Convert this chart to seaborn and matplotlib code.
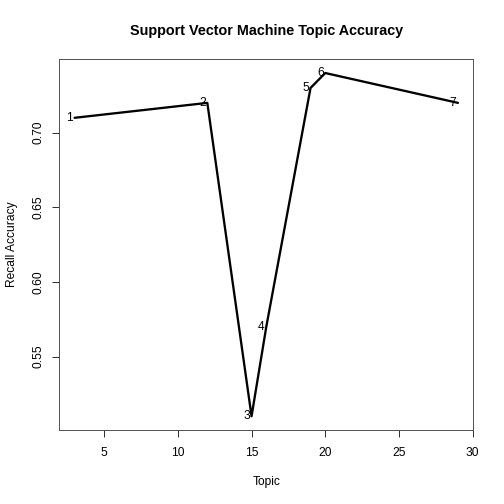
import matplotlib
matplotlib.use("Agg")
import matplotlib.pyplot as plt
import matplotlib.ticker as mticker
import seaborn as sns
import pandas as pd

# 数据
point_ids = ["1", "2", "3", "4", "5", "6", "7"]
topics = [3, 12, 15, 16, 19, 20, 29]
recall = [0.71, 0.72, 0.51, 0.57, 0.73, 0.74, 0.72]

x_ticks = [5, 10, 15, 20, 25, 30]
y_ticks = [0.55, 0.60, 0.65, 0.70]

sns.set_style("white")
plt.rcParams["font.family"] = ["Liberation Sans", "DejaVu Sans"]
plt.rcParams["text.color"] = "black"
plt.rcParams["axes.labelcolor"] = "black"
plt.rcParams["xtick.color"] = "black"
plt.rcParams["ytick.color"] = "black"

df = pd.DataFrame({"Topic": topics, "Recall": recall, "id": point_ids})

fig = plt.figure(figsize=(7, 7), dpi=72)
W = H = 504
ax = fig.add_axes([59.3 / W, 1 - 430 / H, 414 / W, 370.7 / H])

sns.lineplot(data=df, x="Topic", y="Recall", sort=False, color="black",
             linewidth=2.3, ax=ax)
ax.margins(x=0.04, y=0.04)

for _, row in df.iterrows():
    ax.annotate(row["id"], (row["Topic"], row["Recall"]), xytext=(-1.5, 0),
                textcoords="offset points", ha="right", va="center",
                fontsize=12, color="black")

ax.set_xticks(x_ticks)
ax.set_yticks(y_ticks)
ax.yaxis.set_major_formatter(mticker.FormatStrFormatter('%.2f'))
ax.tick_params(axis="both", direction="out", length=7, width=1,
               color="#333333", labelsize=12, bottom=True, left=True)
ax.tick_params(axis="x", pad=10)
ax.tick_params(axis="y", pad=8, labelrotation=90)
plt.setp(ax.get_yticklabels(), va="center")

for sp in ax.spines.values():
    sp.set_color("#555555")
    sp.set_linewidth(1)

ax.set_title("Support Vector Machine Topic Accuracy", fontsize=14.4,
             fontweight="bold", pad=24)
ax.set_xlabel("Topic", fontsize=12)
ax.set_ylabel("Recall Accuracy", fontsize=12)
ax.xaxis.set_label_coords(0.5, (22 - 74) / 370.7)
ax.xaxis.label.set_va("center")
ax.yaxis.set_label_coords((12 - 59.3) / 414, 0.5)
ax.yaxis.label.set_va("center")

fig.savefig("out.png", dpi=72)
plt.close(fig)
